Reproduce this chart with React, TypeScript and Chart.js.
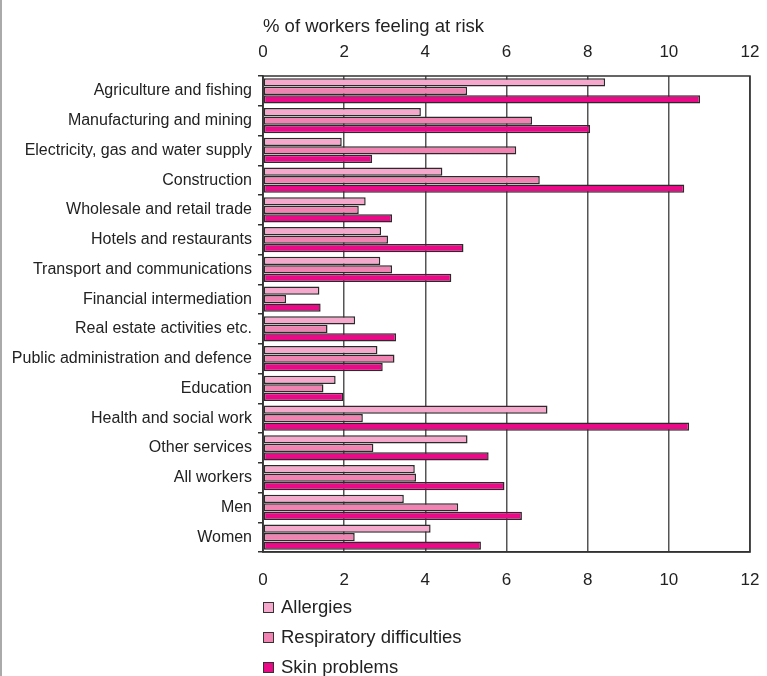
import React, { useEffect, useRef } from "react";
import { Chart, registerables } from "chart.js";

Chart.register(...registerables);

const categories = [
  "Agriculture and fishing",
  "Manufacturing and mining",
  "Electricity, gas and water supply",
  "Construction",
  "Wholesale and retail trade",
  "Hotels and restaurants",
  "Transport and communications",
  "Financial intermediation",
  "Real estate activities etc.",
  "Public administration and defence",
  "Education",
  "Health and social work",
  "Other services",
  "All workers",
  "Men",
  "Women",
];

const allergies = [8.43, 3.89, 1.94, 4.42, 2.53, 2.91, 2.89, 1.39, 2.27, 2.82, 1.79, 7.01, 5.04, 3.74, 3.47, 4.13];
const respiratory = [5.03, 6.63, 6.24, 6.82, 2.36, 3.08, 3.18, 0.57, 1.59, 3.24, 1.49, 2.46, 2.72, 3.77, 4.81, 2.26];
const skin = [10.77, 8.06, 2.69, 10.38, 3.18, 4.94, 4.64, 1.42, 3.28, 2.95, 1.98, 10.5, 5.56, 5.95, 6.38, 5.37];

const seriesNames = ["Allergies", "Respiratory difficulties", "Skin problems"];
const seriesColors = ["#F5A8CB", "#F183B3", "#EA0A87"];
const xTicks = [0, 2, 4, 6, 8, 10, 12];
const axisTitle = "% of workers feeling at risk";

const FONT = "'Liberation Sans', Arial, sans-serif";

export default function App() {
  const ref = useRef<HTMLCanvasElement | null>(null);

  useEffect(() => {
    document.body.style.margin = "0";
    const canvas = ref.current;
    if (!canvas) return;

    const boxPlugin = {
      id: "box",
      afterDatasetsDraw(chart: any) {
        const { ctx, chartArea } = chart;
        ctx.save();
        ctx.strokeStyle = "#333";
        ctx.lineWidth = 1.5;
        ctx.strokeRect(chartArea.left, chartArea.top, chartArea.right - chartArea.left, chartArea.bottom - chartArea.top);
        ctx.restore();
      },
    };

    const chart = new Chart(canvas, {
      type: "bar",
      data: {
        labels: categories,
        datasets: [allergies, respiratory, skin].map((d, i) => ({
          label: seriesNames[i],
          data: d,
          backgroundColor: seriesColors[i],
          borderColor: "#2a2a2a",
          borderWidth: 1.5,
          borderSkipped: false,
          categoryPercentage: 0.86,
          barPercentage: 0.95,
          xAxisID: "x",
        })),
      },
      options: {
        indexAxis: "y",
        animation: false,
        responsive: false,
        maintainAspectRatio: false,
        layout: { padding: { left: 0, right: 17, top: 0, bottom: 0 } },
        plugins: {
          legend: { display: false },
          tooltip: { enabled: false },
        },
        scales: {
          x: {
            position: "bottom",
            min: 0,
            max: 12,
            afterBuildTicks: (s: any) => {
              s.ticks = xTicks.map((v) => ({ value: v }));
            },
            ticks: { color: "#222", font: { family: FONT, size: 17 }, padding: 18 },
            grid: { color: "#555", lineWidth: 1.5, drawTicks: false },
            border: { color: "#333", width: 1.5 },
            afterFit: (s: any) => {
              s.height = 48;
              s.paddingLeft = 0;
              s.paddingRight = 0;
            },
          },
          x2: {
            position: "top",
            min: 0,
            max: 12,
            afterBuildTicks: (s: any) => {
              s.ticks = xTicks.map((v) => ({ value: v }));
            },
            ticks: { color: "#222", font: { family: FONT, size: 17 }, padding: 13 },
            grid: { display: false, drawTicks: false },
            border: { display: false },
            title: {
              display: true,
              align: "start",
              text: axisTitle,
              color: "#222",
              font: { family: FONT, size: 18.5 },
              padding: { top: 16, bottom: 4 },
            },
            afterFit: (s: any) => {
              s.height = 76;
              s.paddingLeft = 0;
              s.paddingRight = 0;
            },
          },
          y: {
            ticks: { color: "#222", font: { family: FONT, size: 16 }, padding: 6, autoSkip: false },
            grid: { offset: true, drawOnChartArea: false, tickLength: 5, color: "#333", lineWidth: 1.5 },
            border: { color: "#333", width: 1.5 },
            afterFit: (s: any) => {
              s.width = 261;
            },
          },
        },
      } as any,
      plugins: [boxPlugin],
    });
    return () => chart.destroy();
  }, []);

  return (
    <div
      style={{
        position: "relative",
        width: 767,
        height: 676,
        borderLeft: "2px solid #aaa",
        boxSizing: "border-box",
        background: "#fff",
      }}
    >
      <canvas ref={ref} width={765} height={600} style={{ position: "absolute", left: 0, top: 0 }} />
      <div style={{ position: "absolute", left: 261, top: 592, fontFamily: FONT, fontSize: 18.5, color: "#222" }}>
        {seriesNames.map((n, i) => (
          <div key={n} style={{ display: "flex", alignItems: "center", height: 30 }}>
            <span
              style={{
                display: "inline-block",
                width: 9,
                height: 9,
                background: seriesColors[i],
                border: "1.5px solid #333",
                marginRight: 7,
              }}
            />
            <span>{n}</span>
          </div>
        ))}
      </div>
    </div>
  );
}
